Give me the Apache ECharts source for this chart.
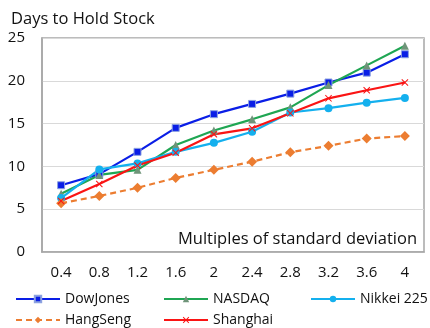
<!DOCTYPE html>
<html>
<head>
<meta charset="utf-8">
<style>
  html, body { margin: 0; padding: 0; background: #fff; }
  #chart { width: 430px; height: 328px; }
</style>
<script src="https://cdn.jsdelivr.net/npm/echarts@6/dist/echarts.min.js"></script>
</head>
<body>
<div id="chart"></div>
<script>
// Holding period (days) against threshold in multiples of standard deviation
var multiples = ['0.4', '0.8', '1.2', '1.6', '2', '2.4', '2.8', '3.2', '3.6', '4'];
var dowJones  = [7.8, 9.1, 11.7, 14.5, 16.1, 17.3, 18.5, 19.8, 20.95, 23.1];
var nasdaq    = [6.8, 9.0, 9.6, 12.5, 14.2, 15.5, 16.9, 19.5, 21.8, 24.1];
var nikkei225 = [6.3, 9.65, 10.35, 11.7, 12.75, 14.05, 16.3, 16.8, 17.45, 18.0];
var hangSeng  = [5.7, 6.55, 7.5, 8.65, 9.6, 10.55, 11.65, 12.4, 13.25, 13.55];
var shanghai  = [5.95, 7.95, 10.1, 11.6, 13.75, 14.45, 16.2, 17.95, 18.9, 19.8];
var yTicks = { min: 0, max: 25, interval: 5 };

var FONT = '"Open Sans", "Noto Sans", sans-serif';
var crossPath = 'path://M1,0L5,4L9,0L10,1L6,5L10,9L9,10L5,6L1,10L0,9L4,5L0,1Z';

function lineSeries(name, data, color, symbol, size, markerColor, borderColor, dashed) {
  return {
    name: name,
    type: 'line',
    data: data,
    symbol: symbol,
    symbolSize: size,
    lineStyle: { color: color, width: 2.2, type: dashed ? [6, 4] : 'solid' },
    itemStyle: { color: markerColor, borderColor: borderColor, borderWidth: borderColor ? 1 : 0 },
    color: color,
    z: 3
  };
}

var series = [
  lineSeries('DowJones', dowJones, '#0a1ee6', 'rect', 7, '#0a1ee6', '#8da2e0'),
  lineSeries('NASDAQ', nasdaq, '#1fa653', 'triangle', 8, '#6f9479', null),
  lineSeries('Nikkei 225', nikkei225, '#14b0ee', 'circle', 8, '#14b0ee', null),
  lineSeries('HangSeng', hangSeng, '#ec7d31', 'diamond', 10, '#ec7d31', null, true),
  lineSeries('Shanghai', shanghai, '#fa1414', crossPath, 7, '#fa1414', null)
];

function legendAt(name, left, top) {
  return {
    data: [name],
    left: left,
    top: top,
    itemWidth: 44,
    itemHeight: 8,
    itemGap: 4,
    textStyle: { fontFamily: FONT, fontSize: 14, color: '#111' },
    selectedMode: false
  };
}

var chart = echarts.init(document.getElementById('chart'), null, { renderer: 'canvas' });
chart.setOption({
  animation: false,
  backgroundColor: '#fff',
  title: [
    {
      text: 'Days to Hold Stock',
      left: 6, top: 6,
      textStyle: { fontFamily: FONT, fontSize: 16.5, fontWeight: 'normal', color: '#111' }
    },
    {
      text: 'Multiples of standard deviation',
      right: 8, top: 226,
      textStyle: { fontFamily: FONT, fontSize: 16.5, fontWeight: 'normal', color: '#111' }
    }
  ],
  legend: [
    legendAt('DowJones', 10, 287),
    legendAt('NASDAQ', 158, 287),
    legendAt('Nikkei 225', 305, 287),
    legendAt('HangSeng', 10, 308),
    legendAt('Shanghai', 158, 308)
  ],
  grid: {
    left: 42, right: 6, top: 38, bottom: 76,
    show: true, borderColor: '#a6a6a6', borderWidth: 1.5
  },
  xAxis: {
    type: 'category',
    data: multiples,
    boundaryGap: true,
    axisLine: { show: true, lineStyle: { color: '#a6a6a6', width: 1.5 } },
    axisTick: { show: false },
    axisLabel: { fontFamily: FONT, fontSize: 15, color: '#111', margin: 13 }
  },
  yAxis: {
    type: 'value',
    min: yTicks.min, max: yTicks.max, interval: yTicks.interval,
    axisLine: { show: true, lineStyle: { color: '#a6a6a6', width: 1.5 } },
    axisTick: { show: false },
    splitLine: { lineStyle: { color: '#d9d9d9', width: 1.2 } },
    axisLabel: { fontFamily: FONT, fontSize: 15, color: '#111', margin: 17 }
  },
  series: series
});
</script>
</body>
</html>
